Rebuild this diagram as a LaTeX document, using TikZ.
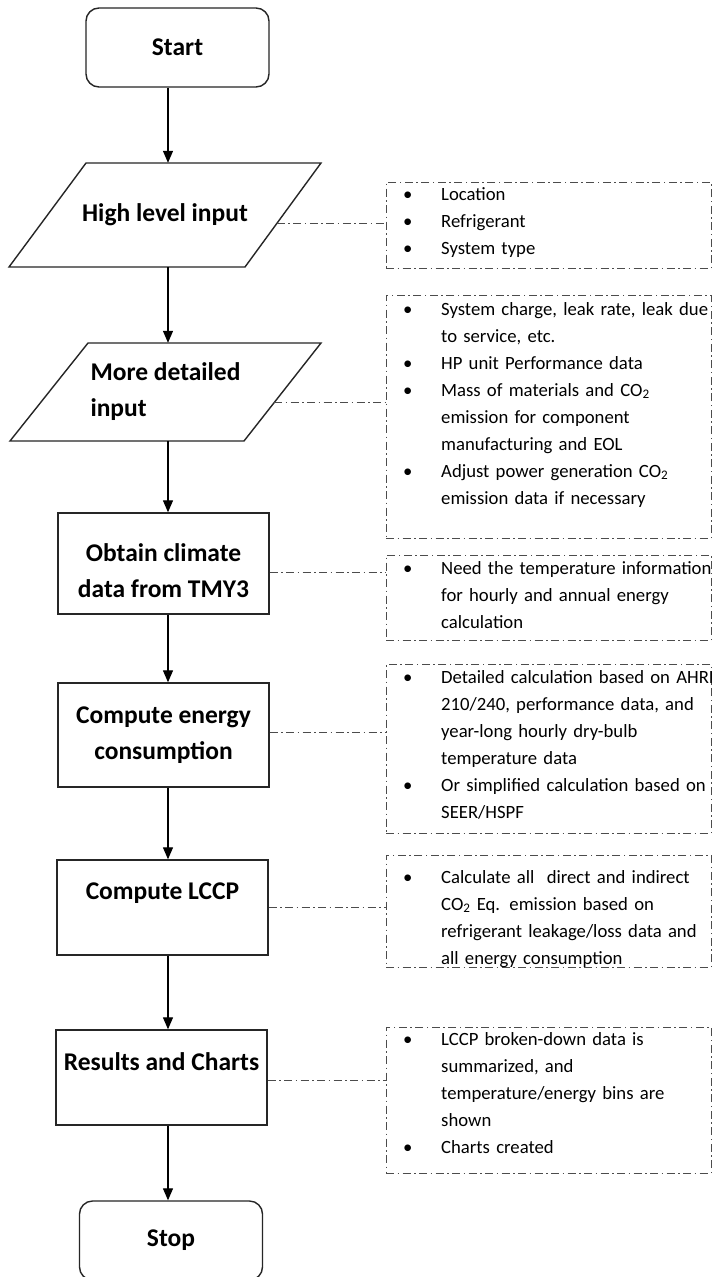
\documentclass[tikz,border=0pt]{standalone}
\usepackage{fontspec}
\setmainfont{Carlito}
\usetikzlibrary{arrows.meta,calc}

% one bullet entry with a hanging indent
\newcommand\bitem[1]{\hangindent=38pt\hangafter=1\noindent\hbox to 38pt{\textbullet\hfil}#1\par}
\newcommand\cotwo{CO\textsubscript{2}}

\begin{document}
\begin{tikzpicture}[x=1pt,y=-1pt,
  edge/.style={draw=black!85, line width=1.4pt},
  flowfont/.style={font=\fontsize{25.5}{36}\selectfont\bfseries},
  flowtext/.style={flowfont, align=center, inner sep=0pt},
  termbox/.style={edge, rounded corners=13pt, minimum width=183pt, minimum height=79pt, inner sep=0pt, flowfont},
  procbox/.style={edge, minimum width=211pt, inner sep=0pt},
  iobody/.style={flowfont, inner sep=0pt},
  dashdot/.style={draw=black!70, line width=1pt, dash pattern=on 8pt off 3.5pt on 1.5pt off 3.5pt},
  notebox/.style={dashdot, minimum width=325pt, inner sep=0pt},
  notetext/.style={anchor=base west, text width=340pt, align=left, inner sep=0pt, font=\fontsize{18.7}{27}\selectfont},
  flow/.style={line width=1.3pt, -{Triangle[length=12pt,width=10pt]}},
  link/.style={dashdot}
]
\fill[white] (0,0) rectangle (714,1277);
\useasboundingbox (0,0) rectangle (714,1277);

% main column
\node[termbox] (start) at (177.5,47.5) {Start};

% input steps: text nodes with a slanted outline around them
\node[iobody, minimum height=104pt] (hli) at (165,215) {High level input};
\coordinate (hli-nw) at ($(hli.center)+(-79,-52)$);
\coordinate (hli-ne) at ($(hli.center)+(156,-52)$);
\coordinate (hli-se) at ($(hli.center)+(80,52)$);
\coordinate (hli-sw) at ($(hli.center)+(-156,52)$);
\draw[edge] (hli-nw) -- (hli-ne) -- (hli-se) -- (hli-sw) -- cycle;

\node[iobody, minimum height=98pt, align=left] (mdi) at (165.5,392) {More detailed\\input};
\coordinate (mdi-nw) at ($(mdi.center)+(-77.5,-49)$);
\coordinate (mdi-ne) at ($(mdi.center)+(155.5,-49)$);
\coordinate (mdi-se) at ($(mdi.center)+(78.5,49)$);
\coordinate (mdi-sw) at ($(mdi.center)+(-155.5,49)$);
\draw[edge] (mdi-nw) -- (mdi-ne) -- (mdi-se) -- (mdi-sw) -- cycle;

\node[procbox, minimum height=101pt] (obtain) at (163.5,563.5) {};
\node[flowtext] (obtaintxt) at (163.5,571) {Obtain climate\\data from TMY3};
\node[procbox, minimum height=104pt] (energy) at (163.5,735) {};
\node[flowtext] (energytxt) at (163.5,735) {Compute energy\\consumption};
\node[procbox, minimum height=95pt] (lccp) at (162.5,907.5) {};
\node[flowtext] (lccptxt) at (162.5,893) {Compute LCCP};
\node[procbox, minimum height=95pt] (results) at (161.5,1077.5) {};
\node[flowtext] (resultstxt) at (161.5,1062) {Results and Charts};
\node[termbox] (stop) at (171,1240.5) {Stop};

\coordinate (ax) at (168,0);
\draw[flow] (start.south -| ax) -- (hli.north -| ax);
\draw[flow] (hli.south -| ax) -- (mdi.north -| ax);
\draw[flow] (mdi.south -| ax) -- (obtain.north -| ax);
\draw[flow] (obtain.south -| ax) -- (energy.north -| ax);
\draw[flow] (energy.south -| ax) -- (lccp.north -| ax);
\draw[flow] (lccp.south -| ax) -- (results.north -| ax);
\draw[flow] (results.south -| ax) -- (stop.north -| ax);

% note boxes
\node[notebox, minimum height=86pt] (n1) at (548.5,225) {};
\node[notebox, minimum height=243pt] (n2) at (548.5,416.5) {};
\node[notebox, minimum height=85pt] (n3) at (548.5,597.5) {};
\node[notebox, minimum height=169pt] (n4) at (548.5,748.5) {};
\node[notebox, minimum height=112pt] (n5) at (548.5,911) {};
\node[notebox, minimum height=146pt] (n6) at (548.5,1100) {};

\node[notetext] (t1) at (403,200) {\bitem{Location}\bitem{Refrigerant}\bitem{System type}};
\node[notetext] (t2) at (403,315) {%
  \bitem{System charge, leak rate, leak due\newline to service, etc.}%
  \bitem{HP unit Performance data}%
  \bitem{Mass of materials and \cotwo\newline emission for component\newline manufacturing and EOL}%
  \bitem{Adjust power generation \cotwo\newline emission data if necessary}};
\node[notetext] (t3) at (403,574) {%
  \bitem{Need the temperature information\newline for hourly and annual energy\newline calculation}};
\node[notetext] (t4) at (403,683) {%
  \bitem{Detailed calculation based on AHRI\newline 210/240, performance data, and\newline year-long hourly dry-bulb\newline temperature data}%
  \bitem{Or simplified calculation based on\newline SEER/HSPF}};
\node[notetext] (t5) at (403,883) {%
  \bitem{Calculate all\ \ direct and indirect\newline \cotwo{} Eq. emission based on\newline refrigerant leakage/loss data and\newline all energy consumption}};
\node[notetext] (t6) at (403,1045) {%
  \bitem{LCCP broken-down data is\newline summarized, and\newline temperature/energy bins are\newline shown}%
  \bitem{Charts created}};

% dash-dot links from steps to notes
\coordinate (p1) at ($(hli-se)!0.42!(hli-ne)$);
\coordinate (p2) at ($(mdi-se)!0.39!(mdi-ne)$);
\draw[link] (p1) -- (p1 -| n1.west);
\draw[link] (p2) -- (p2 -| n2.west);
\draw[link] ([yshift=-8.5pt]obtain.east) -- ([yshift=-8.5pt]obtain.east -| n3.west);
\draw[link] ([yshift=3pt]energy.east) -- ([yshift=3pt]energy.east -| n4.west);
\draw[link] (lccp.east) -- (lccp.east -| n5.west);
\draw[link] ([yshift=-2.5pt]results.east) -- ([yshift=-2.5pt]results.east -| n6.west);
\end{tikzpicture}
\end{document}
